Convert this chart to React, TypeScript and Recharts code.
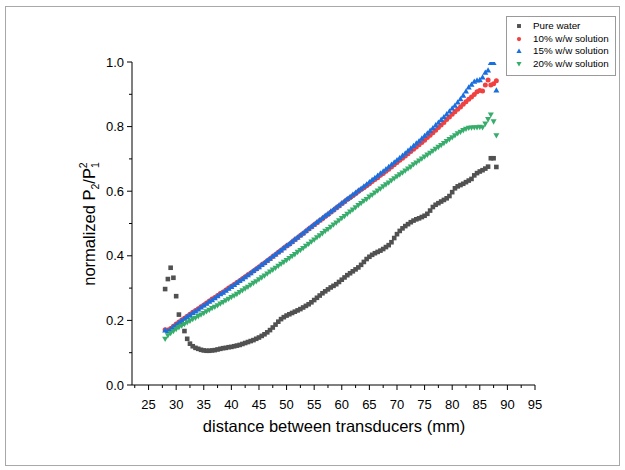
import { ScatterChart, Scatter, XAxis, YAxis } from "recharts";

const distanceMm = [
  28, 28.5, 29, 29.5, 30, 30.5, 31, 31.5, 32, 32.5, 33, 33.5, 34, 34.5, 35, 35.5, 36, 36.5, 37, 37.5,
  38, 38.5, 39, 39.5, 40, 40.5, 41, 41.5, 42, 42.5, 43, 43.5, 44, 44.5, 45, 45.5, 46, 46.5, 47, 47.5,
  48, 48.5, 49, 49.5, 50, 50.5, 51, 51.5, 52, 52.5, 53, 53.5, 54, 54.5, 55, 55.5, 56, 56.5, 57, 57.5,
  58, 58.5, 59, 59.5, 60, 60.5, 61, 61.5, 62, 62.5, 63, 63.5, 64, 64.5, 65, 65.5, 66, 66.5, 67, 67.5,
  68, 68.5, 69, 69.5, 70, 70.5, 71, 71.5, 72, 72.5, 73, 73.5, 74, 74.5, 75, 75.5, 76, 76.5, 77, 77.5,
  78, 78.5, 79, 79.5, 80, 80.5, 81, 81.5, 82, 82.5, 83, 83.5, 84, 84.5, 85, 85.5, 86, 86.5, 87, 87.5,
  88,
];

const pureWater = [
  0.297, 0.328, 0.363, 0.332, 0.275, 0.218, 0.19, 0.167, 0.143, 0.128, 0.12, 0.115, 0.112, 0.109, 0.107, 0.106, 0.106, 0.107, 0.108, 0.11,
  0.112, 0.114, 0.115, 0.117, 0.118, 0.12, 0.122, 0.124, 0.127, 0.13, 0.133, 0.136, 0.139, 0.143, 0.147, 0.152, 0.157, 0.163, 0.17, 0.178,
  0.187, 0.196, 0.204, 0.21, 0.215, 0.219, 0.223, 0.227, 0.231, 0.235, 0.24, 0.245, 0.25, 0.256, 0.263, 0.27, 0.277, 0.284, 0.29, 0.296,
  0.302, 0.307, 0.312, 0.319, 0.326, 0.333, 0.34, 0.346, 0.352, 0.358, 0.364, 0.372, 0.381, 0.39, 0.397, 0.403, 0.408, 0.412, 0.416, 0.421,
  0.427, 0.433, 0.442, 0.455, 0.467, 0.477, 0.485, 0.492, 0.498, 0.504, 0.509, 0.513, 0.516, 0.52, 0.524, 0.53, 0.54, 0.551, 0.558, 0.563,
  0.568, 0.573, 0.578, 0.585, 0.597, 0.609, 0.615, 0.619, 0.623, 0.628, 0.633, 0.638, 0.649, 0.656, 0.661, 0.665, 0.67, 0.676, 0.702, 0.702,
  0.675,
];

const solution10 = [
  0.171, 0.17, 0.175, 0.182, 0.189, 0.195, 0.201, 0.207, 0.213, 0.219, 0.225, 0.231, 0.236, 0.242, 0.248, 0.254, 0.26, 0.266, 0.271, 0.277,
  0.283, 0.288, 0.294, 0.3, 0.306, 0.311, 0.317, 0.323, 0.329, 0.335, 0.341, 0.347, 0.353, 0.359, 0.365, 0.372, 0.378, 0.385, 0.391, 0.398,
  0.404, 0.411, 0.417, 0.424, 0.43, 0.436, 0.443, 0.45, 0.456, 0.463, 0.469, 0.476, 0.483, 0.489, 0.496, 0.502, 0.509, 0.515, 0.522, 0.528,
  0.535, 0.541, 0.548, 0.554, 0.561, 0.567, 0.574, 0.58, 0.586, 0.592, 0.599, 0.605, 0.611, 0.617, 0.623, 0.63, 0.636, 0.642, 0.649, 0.655,
  0.662, 0.668, 0.675, 0.682, 0.689, 0.696, 0.702, 0.709, 0.716, 0.723, 0.73, 0.737, 0.744, 0.751, 0.758, 0.766, 0.773, 0.781, 0.789, 0.797,
  0.805, 0.813, 0.822, 0.83, 0.838, 0.846, 0.854, 0.861, 0.869, 0.877, 0.885, 0.892, 0.899, 0.908, 0.912, 0.91, 0.929, 0.944, 0.929, 0.933,
  0.942,
];

const solution15 = [
  0.17, 0.168, 0.174, 0.181, 0.188, 0.194, 0.2, 0.206, 0.212, 0.218, 0.224, 0.229, 0.235, 0.241, 0.247, 0.253, 0.259, 0.264, 0.27, 0.276,
  0.282, 0.287, 0.293, 0.299, 0.305, 0.311, 0.317, 0.323, 0.329, 0.335, 0.341, 0.347, 0.354, 0.36, 0.366, 0.373, 0.379, 0.386, 0.392, 0.399,
  0.405, 0.412, 0.418, 0.425, 0.432, 0.438, 0.445, 0.452, 0.458, 0.465, 0.471, 0.478, 0.485, 0.491, 0.498, 0.505, 0.511, 0.518, 0.525, 0.531,
  0.538, 0.544, 0.551, 0.557, 0.564, 0.57, 0.577, 0.583, 0.59, 0.596, 0.603, 0.609, 0.616, 0.622, 0.629, 0.636, 0.642, 0.649, 0.656, 0.662,
  0.669, 0.676, 0.683, 0.69, 0.697, 0.704, 0.711, 0.718, 0.726, 0.733, 0.741, 0.749, 0.756, 0.764, 0.772, 0.78, 0.788, 0.796, 0.805, 0.813,
  0.822, 0.83, 0.839, 0.848, 0.857, 0.866, 0.876, 0.886, 0.897, 0.91, 0.922, 0.931, 0.94, 0.944, 0.945, 0.953, 0.968, 0.975, 0.998, 0.998,
  0.913,
];

const solution20 = [
  0.142, 0.153, 0.16, 0.166, 0.172, 0.178, 0.183, 0.188, 0.193, 0.198, 0.203, 0.207, 0.212, 0.217, 0.222, 0.227, 0.232, 0.237, 0.241, 0.246,
  0.251, 0.256, 0.261, 0.266, 0.271, 0.276, 0.281, 0.287, 0.292, 0.298, 0.303, 0.309, 0.315, 0.32, 0.326, 0.332, 0.338, 0.344, 0.35, 0.356,
  0.362, 0.368, 0.374, 0.38, 0.386, 0.392, 0.398, 0.404, 0.411, 0.417, 0.423, 0.43, 0.436, 0.443, 0.449, 0.456, 0.462, 0.469, 0.476, 0.482,
  0.489, 0.496, 0.502, 0.509, 0.516, 0.522, 0.529, 0.536, 0.542, 0.549, 0.556, 0.562, 0.569, 0.575, 0.582, 0.588, 0.595, 0.601, 0.607, 0.614,
  0.62, 0.626, 0.633, 0.639, 0.645, 0.651, 0.657, 0.663, 0.669, 0.675, 0.682, 0.688, 0.694, 0.7, 0.706, 0.712, 0.718, 0.724, 0.73, 0.736,
  0.742, 0.748, 0.754, 0.76, 0.766, 0.772, 0.778, 0.783, 0.788, 0.792, 0.795, 0.796, 0.797, 0.797, 0.798, 0.797, 0.808, 0.822, 0.836, 0.815,
  0.772,
];

const xTicks = [
  22.5, 25, 27.5, 30, 32.5, 35, 37.5, 40, 42.5, 45, 47.5, 50, 52.5, 55, 57.5, 60, 62.5, 65, 67.5, 70, 72.5, 75, 77.5,
  80, 82.5, 85, 87.5, 90, 92.5, 95,
];
const yTicks = [0, 0.1, 0.2, 0.3, 0.4, 0.5, 0.6, 0.7, 0.8, 0.9, 1.0];

const seriesNames = ["Pure water", "10% w/w solution", "15% w/w solution", "20% w/w solution"];
const seriesColors = ["#515151", "#F14040", "#1A6FDF", "#37AD6B"];
const seriesValues = [pureWater, solution10, solution15, solution20];

const FONT = "'Liberation Sans', Arial, sans-serif";

function marker(kind: number, cx: number, cy: number, color: string, s = 1) {
  if (kind === 0) {
    const h = 2.3 * s;
    return <rect x={cx - h} y={cy - h} width={h * 2} height={h * 2} fill={color} />;
  }
  if (kind === 1) return <circle cx={cx} cy={cy} r={2.5 * s} fill={color} />;
  const w = 3 * s;
  if (kind === 2) {
    return <polygon points={`${cx - w},${cy + 2.4 * s} ${cx + w},${cy + 2.4 * s} ${cx},${cy - 2.9 * s}`} fill={color} />;
  }
  return <polygon points={`${cx - w},${cy - 2.4 * s} ${cx + w},${cy - 2.4 * s} ${cx},${cy + 2.9 * s}`} fill={color} />;
}

function XTick(props: any) {
  const { x, y, payload } = props;
  const v = payload.value;
  const major = Math.abs(v % 5) < 1e-6;
  return (
    <g>
      <line x1={x} x2={x} y1={y} y2={y + (major ? 5 : 3)} stroke="#000" strokeWidth={1} />
      {major && (
        <text x={x} y={y + 23.5} textAnchor="middle" fontSize={13} fontFamily={FONT} fill="#000">
          {v}
        </text>
      )}
    </g>
  );
}

function YTick(props: any) {
  const { x, y, payload } = props;
  const v = payload.value;
  const major = Math.round(v * 10) % 2 === 0;
  return (
    <g>
      <line x1={x} x2={x - (major ? 5 : 3)} y1={y} y2={y} stroke="#000" strokeWidth={1} />
      {major && (
        <text x={x - 8} y={y + 4.5} textAnchor="end" fontSize={13} fontFamily={FONT} fill="#000">
          {v.toFixed(1)}
        </text>
      )}
    </g>
  );
}

function LegendBox() {
  return (
    <div
      style={{
        position: "absolute",
        left: 506,
        top: 16,
        border: "1px solid #9a9a9a",
        background: "#fff",
        width: 110,
        height: 60,
        boxSizing: "border-box",
        fontFamily: FONT,
        fontSize: 9.8,
        color: "#000",
      }}
    >
      {seriesNames.map((name, i) => (
        <div key={name} style={{ position: "absolute", left: 0, top: 3 + i * 12.5, height: 12, display: "flex", alignItems: "center" }}>
          <svg width={26} height={12} style={{ display: "block" }}>
            {marker(i, 12, 6, seriesColors[i], 0.85)}
          </svg>
          <span style={{ whiteSpace: "nowrap", lineHeight: "12px" }}>{name}</span>
        </div>
      ))}
    </div>
  );
}

export default function App() {
  const datasets = seriesValues.map((vals) => distanceMm.map((d, i) => ({ x: d, y: vals[i] })));
  return (
    <div style={{ position: "absolute", left: 0, top: 0, width: 625, height: 470, background: "#fff" }}>
      <div
        style={{
          position: "absolute",
          left: 5,
          top: 6,
          width: 615,
          height: 460,
          border: "1px solid #a8a8a8",
          boxSizing: "border-box",
        }}
      />
      <ScatterChart width={625} height={470} margin={{ top: 62, right: 90, bottom: 0, left: 0 }}>
        <XAxis
          type="number"
          dataKey="x"
          domain={[22, 95]}
          ticks={xTicks}
          interval={0}
          height={85}
          tickSize={0}
          tickMargin={0}
          tick={XTick}
          tickLine={false}
          axisLine={{ stroke: "#000", strokeWidth: 1 }}
          allowDataOverflow
        />
        <YAxis
          type="number"
          dataKey="y"
          domain={[0, 1]}
          ticks={yTicks}
          interval={0}
          width={132}
          tickSize={0}
          tickMargin={0}
          tick={YTick}
          tickLine={false}
          axisLine={{ stroke: "#000", strokeWidth: 1 }}
          allowDataOverflow
        />
        {datasets.map((data, i) => (
          <Scatter
            key={seriesNames[i]}
            name={seriesNames[i]}
            data={data}
            fill={seriesColors[i]}
            isAnimationActive={false}
            shape={(p: any) => marker(i, p.cx, p.cy, seriesColors[i])}
          />
        ))}
      </ScatterChart>
      <LegendBox />
      <svg width={625} height={470} style={{ position: "absolute", left: 0, top: 0, pointerEvents: "none" }}>
        <text x={334} y={432} textAnchor="middle" fontSize={16.5} fontFamily={FONT} fill="#000">
          distance between transducers (mm)
        </text>
        <text transform="translate(95,224) rotate(-90)" textAnchor="middle" fontSize={16.5} fontFamily={FONT} fill="#000">
          normalized P
          <tspan fontSize={10.5} dy={4}>2</tspan>
          <tspan dy={-4}>/P</tspan>
          <tspan fontSize={10.5} dy={4}>1</tspan>
          <tspan fontSize={10.5} dx={-6} dy={-12}>2</tspan>
        </text>
      </svg>
    </div>
  );
}
